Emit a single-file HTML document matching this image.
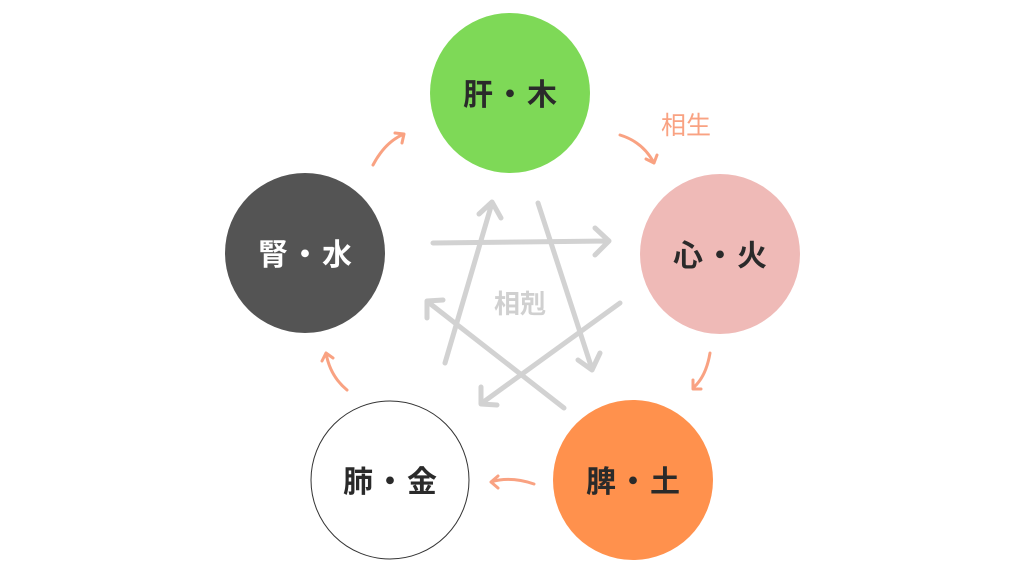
<!DOCTYPE html>
<html><head><meta charset="utf-8"><style>
html,body{margin:0;padding:0;background:#fff;}
svg{display:block}
text{font-family:"Liberation Sans","Noto Sans CJK JP",sans-serif;}
</style></head><body>
<svg width="1024" height="576" viewBox="0 0 1024 576">
<circle cx="510" cy="93" r="80" fill="#7ed957"/>
<circle cx="720" cy="254" r="80" fill="#efbab7"/>
<circle cx="633" cy="480" r="80" fill="#ff914d"/>
<circle cx="390" cy="480" r="79" fill="#fff" stroke="#333" stroke-width="1"/>
<circle cx="305" cy="253" r="80" fill="#545454"/>
<g font-size="30" font-weight="bold" text-anchor="middle" letter-spacing="2">
<text x="511" y="105" fill="#2a2a2a">肝・木</text>
<text x="721" y="266" fill="#2a2a2a">心・火</text>
<text x="634" y="492" fill="#2a2a2a">脾・土</text>
<text x="391" y="492" fill="#2a2a2a">肺・金</text>
<text x="306" y="265" fill="#fff">腎・水</text>
</g>
<g fill="none" stroke="#d2d2d2" stroke-width="5" stroke-linecap="round" stroke-linejoin="round">
<path d="M433,243 L608,241 M595,228 L609,241 L595,255"/>
<path d="M538,203 L592,369 M578,360 L592,370 L600,353"/>
<path d="M620,303 L482,403 M481,387 L481,404 L497,405"/>
<path d="M564,408 L428,302 M427,318 L427,301 L443,300"/>
<path d="M445,363 L492,203 M479,214 L492,202 L501,218"/>
</g>
<text x="520" y="313" font-size="26" font-weight="bold" fill="#d0d0d0" text-anchor="middle">相剋</text>
<g fill="none" stroke="#f9a282" stroke-width="3" stroke-linecap="round" stroke-linejoin="round">
<path d="M373,165 Q385,142 404,134 M395,133 L404,134 L402,143"/>
<path d="M620,135 Q643,142 654,163 M646,159 L654,163 L657,155"/>
<path d="M710,353 Q706,377 693,388 M693,380 L693,389 L701,389"/>
<path d="M534,484 Q510,476 491,482 M498,476 L491,482 L498,488"/>
<path d="M347,390 Q330,376 326,353 M322,361 L326,353 L333,358"/>
</g>
<text x="686" y="134" font-size="25" fill="#f9a282" text-anchor="middle">相生</text>
</svg>
</body></html>
